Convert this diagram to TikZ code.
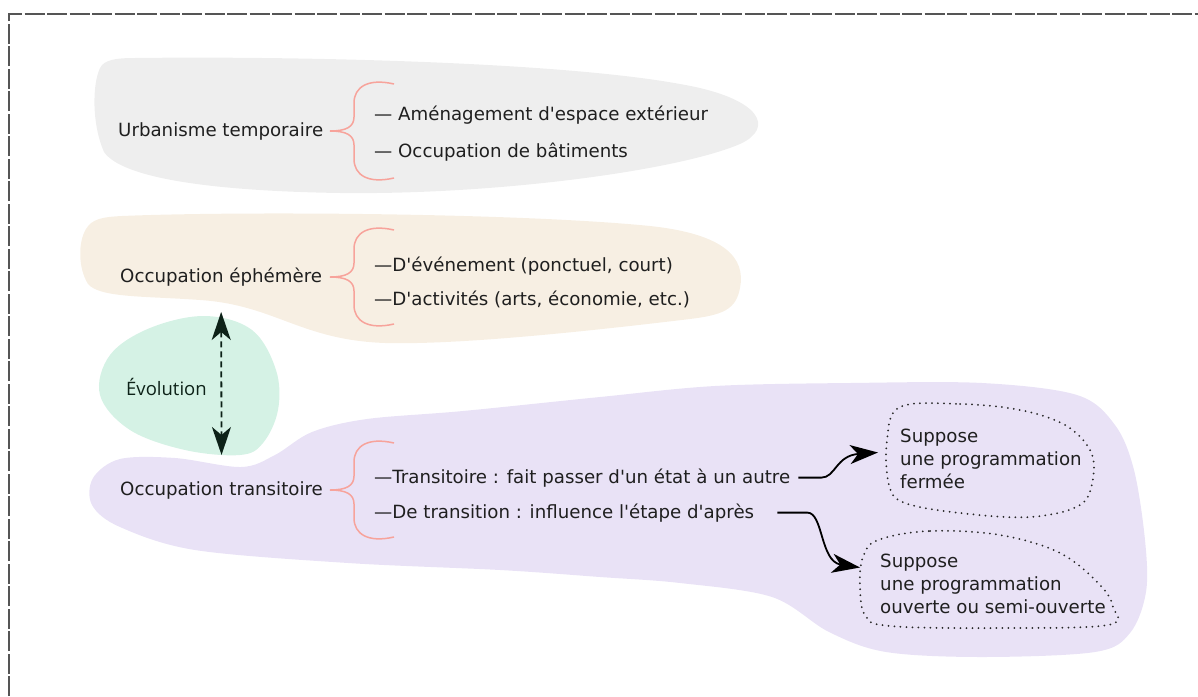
\documentclass[tikz,border=0pt]{standalone}
\usepackage{fontspec}
\setmainfont{DejaVu Sans}[Ligatures=TeXOff]
\newfontfamily\evofont{Open Sans}
\usetikzlibrary{arrows.meta,positioning}
\definecolor{blobgray}{HTML}{EEEEEE}
\definecolor{blobbeige}{HTML}{F7EFE3}
\definecolor{blobgreen}{HTML}{D5F2E5}
\definecolor{blobpurple}{HTML}{E9E2F6}
\definecolor{bracepink}{HTML}{F7A39B}
\definecolor{evogreen}{HTML}{0D2218}
\definecolor{framegray}{HTML}{555555}
\begin{document}
\begin{tikzpicture}[x=1pt,y=-1pt,
    lbl/.style={anchor=base west,inner sep=0pt,font=\fontsize{18.2}{23}\selectfont,text=black!88},
    item/.style={lbl},
    boxtxt/.style={anchor=west,inner sep=0pt,align=left,font=\fontsize{18.2}{23}\selectfont,text=black!88},
    accol/.style={draw=bracepink,line width=1.5pt},
    fleche/.style={line width=1.8pt,-{Stealth[length=28pt,width=19pt,inset=8pt]}},
    evo/.style={evogreen,line width=1.8pt,dash pattern=on 6pt off 4pt,{Stealth[length=28pt,width=19pt,inset=8pt]}-{Stealth[length=28pt,width=19pt,inset=8pt]}},
    pointille/.style={draw=black!85,line width=2pt,dash pattern=on 0pt off 6pt,line cap=round}]
    \useasboundingbox (0,0) rectangle (1198,696);
    \draw[framegray,line width=1.5pt,dash pattern=on 20pt off 2.5pt] (9,696) -- (9,14) -- (1198,14);
    % fonds
    \fill[blobgray] (135,58) .. controls (300,56) and (560,62) .. (680,84) .. controls (762,98) and (775,128) .. (740,144) .. controls (680,170) and (500,195) .. (340,193) .. controls (210,191) and (122,178) .. (104,152) .. controls (92,125) and (92,85) .. (100,68) .. controls (104,60) and (115,58) .. (135,58) -- cycle;
    \fill[blobbeige] (122,216) .. controls (240,211) and (520,213) .. (650,226) .. controls (725,234) and (746,258) .. (740,288) .. controls (736,310) and (722,315) .. (690,319) .. controls (590,331) and (460,345) .. (385,343) .. controls (300,340) and (275,305) .. (200,300) .. controls (145,296) and (100,298) .. (88,284) .. controls (78,268) and (78,242) .. (86,229) .. controls (92,219) and (102,217) .. (122,216) -- cycle;
    \fill[blobgreen] plot[smooth cycle,tension=0.6] coordinates {(150,328) (205,316) (252,330) (276,370) (278,410) (263,443) (240,455) (185,450) (130,430) (100,395) (110,355)};
    \fill[blobpurple] plot[smooth cycle,tension=0.55] coordinates {(93,478) (120,459) (175,458) (241,467) (275,455) (312,432) (367,419) (463,411) (600,397) (715,386) (850,383) (982,383) (1077,395) (1115,425) (1134,470) (1145,540) (1146,592) (1130,633) (1095,652) (982,657) (886,652) (829,632) (772,597) (680,583) (600,577) (500,570) (348,563) (195,550) (120,527) (92,505)};
    % accolades
    \foreach \c in {131,277,490}
        \draw[accol] (394,\c-47) .. controls (368,\c-53) and (354,\c-44) .. (354,\c-28) -- (354,\c-14) .. controls (354,\c-4) and (346,\c) .. (330,\c) .. controls (346,\c) and (354,\c+4) .. (354,\c+14) -- (354,\c+28) .. controls (354,\c+44) and (368,\c+53) .. (394,\c+47);
    \node[lbl] (urba) at (118,136) {Urbanisme temporaire};
    \node[item] (amen) at (374,120) {— Aménagement d'espace extérieur};
    \node[item] (batim) at (374,157) {— Occupation de bâtiments};
    \node[lbl] (ephem) at (120,282) {Occupation éphémère};
    \node[item] (evene) at (374,271) {—D'événement (ponctuel, court)};
    \node[item] (activ) at (374,305) {—D'activités (arts, économie, etc.)};
    \node[lbl] (trans) at (120,495) {Occupation transitoire};
    \node[item] (transi) at (374,483) {—Transitoire : fait passer d'un état à un autre};
    \node[item] (transn) at (374,518) {—De transition : influence l'étape d'après};
    \node[lbl,font=\evofont\fontsize{18.5}{22}\selectfont,text=evogreen] (evol) at (126,395) {Évolution};
    \draw[evo] ([yshift=-26pt]ephem.south) -- ([yshift=26pt]trans.north);
    % cadres pointilles
    \node[boxtxt] (box1) at (900,458.5) {Suppose\\une programmation\\fermée};
    \node[boxtxt] (box2) at (880,583.5) {Suppose\\une programmation\\ouverte ou semi-ouverte};
    \draw[pointille] plot[smooth cycle,tension=0.6] coordinates {(900,407) (960,404) (1020,410) (1065,425) (1090,450) (1093,478) (1080,505) (1030,517) (960,513) (905,503) (889,485) (887,440)};
    \draw[pointille] plot[smooth cycle,tension=0.6] coordinates {(878,540) (930,531) (1000,535) (1060,553) (1100,585) (1113,607) (1108,625) (1000,628) (890,626) (865,615) (860,585) (863,557)};
    \draw[fleche] ([xshift=8pt]transi.east) -- ++(23,0) .. controls +(14,0) and +(-42,3) .. ([xshift=-22pt,yshift=6pt]box1.west);
    \draw[fleche] ([xshift=23pt]transn.east) -- ++(30,0) .. controls +(16,0) and +(-40,-6) .. ([xshift=-20pt,yshift=16pt]box2.west);
\end{tikzpicture}
\end{document}
